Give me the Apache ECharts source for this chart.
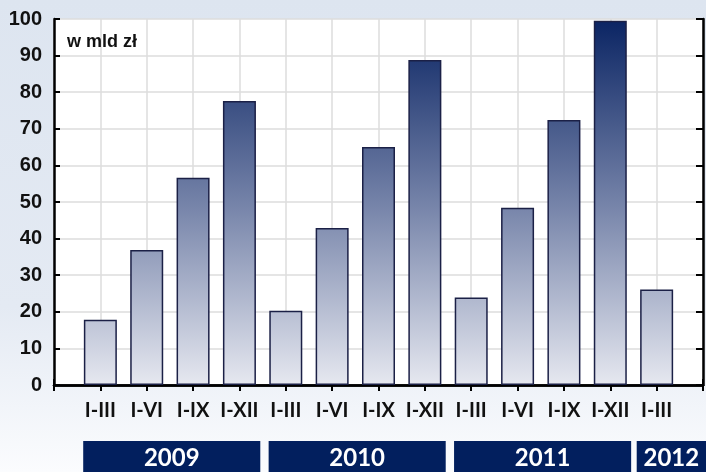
<!DOCTYPE html>
<html><head><meta charset="utf-8">
<script src="https://cdn.jsdelivr.net/npm/echarts@6/dist/echarts.min.js"></script>
<style>html,body{margin:0;padding:0;}#c{width:706px;height:472px;}</style>
</head><body><div id="c"></div>
<script>
// Data
var categories = ['', 'I-III', 'I-VI', 'I-IX', 'I-XII', 'I-III', 'I-VI', 'I-IX', 'I-XII', 'I-III', 'I-VI', 'I-IX', 'I-XII', 'I-III', ''];
var values = [null, 17.8, 36.9, 56.6, 77.6, 20.3, 42.9, 65.0, 88.8, 23.9, 48.4, 72.4, 99.5, 26.1, null];
var yTicks = [0, 10, 20, 30, 40, 50, 60, 70, 80, 90, 100];
var years = ['2009', '2010', '2011', '2012'];
var yearFirst = [1, 5, 9, 13];
var yearLast = [4, 8, 12, 13];
var unitLabel = 'w mld zł';

var chart = echarts.init(document.getElementById('c'), null, {renderer: 'canvas'});
var gTop = 19, gBottom = 87;
var plotTop = gTop, plotBottom = 472 - gBottom;
var barGrad = new echarts.graphic.LinearGradient(0, plotTop, 0, plotBottom, [
  {offset: 0, color: '#0a2463'},
  {offset: 0.5, color: '#7482a8'},
  {offset: 1, color: '#e6e8f0'}
], true);

var yFont = '"Liberation Sans Narrow", "Liberation Sans", Arial, sans-serif';
var xFont = 'Lato, "Open Sans", sans-serif';
var option = {
  animation: false,
  backgroundColor: new echarts.graphic.LinearGradient(0, 0, 0, 1, [
    {offset: 0, color: '#dde5f0'},
    {offset: 0.65, color: '#e4eaf3'},
    {offset: 1, color: '#fbfcfe'}
  ]),
  grid: {left: 54, right: 1, top: gTop, bottom: gBottom, show: true, backgroundColor: '#ffffff', borderWidth: 0},
  xAxis: [{
    type: 'category', data: categories, boundaryGap: false, position: 'bottom',
    axisLine: {show: true, lineStyle: {color: '#000', width: 2.5}},
    axisTick: {show: true, inside: true, length: 6, lineStyle: {color: '#000', width: 2}},
    axisLabel: {color: '#111', fontFamily: xFont, fontWeight: 'bold', fontSize: 20, margin: 16, interval: 0},
    splitLine: {show: true, lineStyle: {color: '#dcdcdc', width: 1.5}}
  }, {
    type: 'category', data: categories, boundaryGap: false, position: 'top',
    axisLine: {show: true, lineStyle: {color: '#000', width: 2.5}},
    axisTick: {show: true, inside: true, length: 6, lineStyle: {color: '#000', width: 2}},
    axisLabel: {show: false}, splitLine: {show: false}
  }],
  yAxis: [{
    type: 'value', min: 0, max: 100, interval: 10, position: 'left',
    axisLine: {show: true, lineStyle: {color: '#000', width: 2.5}},
    axisTick: {show: true, inside: true, length: 6, lineStyle: {color: '#000', width: 2}},
    axisLabel: {color: '#111', fontFamily: yFont, fontWeight: 'bold', fontSize: 20, margin: 12,
      formatter: function (v) { return yTicks.indexOf(v) >= 0 ? String(v) : ''; }},
    splitLine: {show: true, lineStyle: {color: '#dcdcdc', width: 1.5}}
  }, {
    type: 'value', min: 0, max: 100, interval: 10, position: 'right',
    axisLine: {show: true, lineStyle: {color: '#000', width: 2.5}},
    axisTick: {show: true, inside: true, length: 7, lineStyle: {color: '#000', width: 2}},
    axisLabel: {show: false}, splitLine: {show: false}
  }],
  series: [{
    type: 'bar', data: values, barWidth: 33, xAxisIndex: 0, yAxisIndex: 0,
    itemStyle: {color: barGrad, borderColor: '#1b2046', borderWidth: 1.5}
  }]
};
chart.setOption(option);

// Annotations: unit label and year boxes positioned from the axis scale
var step = chart.convertToPixel({xAxisIndex: 0}, 1) - chart.convertToPixel({xAxisIndex: 0}, 0);
var graphics = [{
  type: 'text', left: 67, top: 33,
  style: {text: unitLabel, fill: '#111', font: 'bold 18px "Liberation Sans", Arial, sans-serif'}
}];
for (var i = 0; i < years.length; i++) {
  var cf = chart.convertToPixel({xAxisIndex: 0}, yearFirst[i]);
  var cl = chart.convertToPixel({xAxisIndex: 0}, yearLast[i]);
  var x0 = cf - step * (i === years.length - 1 ? 0.43 : 0.37);
  var x1 = (i === years.length - 1) ? 708 : cl + step * 0.45;
  graphics.push({
    type: 'rect', shape: {x: x0, y: 441, width: x1 - x0, height: 35},
    style: {fill: '#021f5e'}
  });
  graphics.push({
    type: 'text', x: (x0 + Math.min(x1, 706)) / 2, y: 458,
    style: {text: years[i], fill: '#ffffff', font: 'bold 24px Lato, "Open Sans", sans-serif', align: 'center', verticalAlign: 'middle'}
  });
}
chart.setOption({graphic: graphics});
</script>
</body></html>
